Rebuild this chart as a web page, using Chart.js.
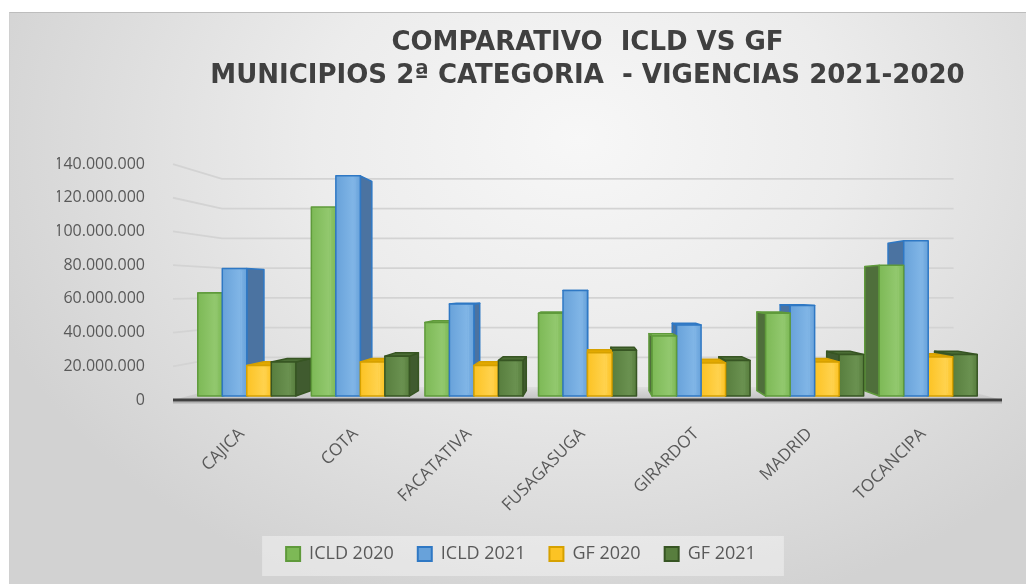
<!DOCTYPE html>
<html lang="es">
<head>
<meta charset="utf-8">
<title>Comparativo ICLD vs GF</title>
<script src="https://cdn.jsdelivr.net/npm/chart.js@4.4.1/dist/chart.umd.min.js"></script>
<style>
  html, body { margin: 0; padding: 0; background: #fff; }
  body { width: 1026px; height: 584px; position: relative; overflow: hidden; }
  #panel {
    position: absolute; left: 9px; top: 12px; width: 1017px; height: 572px;
    border-top: 1px solid #bdbdbd; border-left: 1px solid #d0d0d0;
    background: radial-gradient(ellipse 62% 85% at 56% 22%, #f7f7f7 0%, #ececec 42%, #d2d2d2 100%);
  }
  canvas { display: block; }
</style>
</head>
<body>
<div id="panel"><canvas id="grafico" width="1016" height="571"></canvas></div>
<script>
// Municipios y valores por vigencia (pesos)
const municipios = ['CAJICA', 'COTA', 'FACATATIVA', 'FUSAGASUGA', 'GIRARDOT', 'MADRID', 'TOCANCIPA'];
const icld2020 = [63500000, 114500000, 46000000, 51500000, 38000000, 51500000, 80000000];
const icld2021 = [78000000, 133000000, 57000000, 65000000, 44500000, 56000000, 94500000];
const gf2020   = [20500000, 22500000, 20500000, 28000000, 22000000, 22500000, 25500000];
const gf2021   = [22500000, 26000000, 23500000, 29500000, 23500000, 27000000, 27000000];
const valoresEjeY = [0, 20000000, 40000000, 60000000, 80000000, 100000000, 120000000, 140000000];

function miles(v) {
    return String(v).replace(/\B(?=(\d{3})+(?!\d))/g, '.');
}

// --- Perspectiva: punto de fuga y profundidad de barras y paredes ---
const VX = 580, VY = 277;
const PROF_BARRA = 0.05;
const PROF_PARED = 0.1175;

function alFondo(px, py, k) {
    return [px + (VX - px) * k, py + (VY - py) * k];
}

function poligono(ctx, puntos, relleno, borde) {
    ctx.beginPath();
    ctx.moveTo(puntos[0][0], puntos[0][1]);
    for (let i = 1; i < puntos.length; i++) ctx.lineTo(puntos[i][0], puntos[i][1]);
    ctx.closePath();
    ctx.fillStyle = relleno;
    ctx.fill();
    if (borde) {
        ctx.strokeStyle = borde;
        ctx.lineWidth = 1.5;
        ctx.stroke();
    }
}

const efecto3D = {
    id: 'efecto3D',

    // Caja clara detrás de la leyenda
    beforeDraw(chart) {
        const cajas = chart.legend.legendHitBoxes;
        if (!cajas || !cajas.length) return;
        const ult = cajas[cajas.length - 1];
        const izq = cajas[0].left - 24;
        const der = ult.left + ult.width + 28;
        const cy = cajas[0].top + cajas[0].height / 2;
        const ctx = chart.ctx;
        ctx.save();
        ctx.fillStyle = 'rgba(255,255,255,0.38)';
        ctx.fillRect(izq, cy - 18, der - izq, 40);
        ctx.restore();
    },

    // Paredes, líneas de división, piso y eje
    beforeDatasetsDraw(chart) {
        const ctx = chart.ctx;
        const y = chart.scales.y;
        const area = chart.chartArea;
        const xi = area.left - 17, xd = area.right + 17;
        const base = y.getPixelForValue(0);
        ctx.save();

        valoresEjeY.forEach(v => {
            if (v === 0) return;
            const fy = y.getPixelForValue(v);
            const [bxi, by] = alFondo(xi, fy, PROF_PARED);
            const [bxd] = alFondo(xd, fy, PROF_PARED);
            ctx.strokeStyle = '#d3d3d3';
            ctx.lineWidth = 1.8;
            ctx.beginPath();
            ctx.moveTo(xi, fy);
            ctx.lineTo(bxi, by);
            ctx.lineTo(bxd, by);
            ctx.stroke();
        });

        const [pbi, pby] = alFondo(xi, base, PROF_PARED);
        const [pbd] = alFondo(xd, base, PROF_PARED);
        const grad = ctx.createLinearGradient(0, pby, 0, base);
        grad.addColorStop(0, '#dedede');
        grad.addColorStop(1, '#c2c2c2');
        poligono(ctx, [[xi, base], [pbi, pby], [pbd, pby], [xd, base]], grad);

        ctx.strokeStyle = 'rgba(0,0,0,0.18)';
        ctx.lineWidth = 2;
        ctx.beginPath();
        ctx.moveTo(xi, base + 2.5);
        ctx.lineTo(xd, base + 2.5);
        ctx.stroke();
        ctx.strokeStyle = '#404040';
        ctx.lineWidth = 3;
        ctx.beginPath();
        ctx.moveTo(xi, base);
        ctx.lineTo(xd, base);
        ctx.stroke();
        ctx.restore();
    },

    // Las barras se dibujan aquí con caras laterales y superiores
    beforeDatasetDraw() {
        return false;
    },

    afterDatasetsDraw(chart) {
        const ctx = chart.ctx;
        const barras = [];
        chart.data.datasets.forEach((ds, i) => {
            const meta = chart.getDatasetMeta(i);
            if (!chart.isDatasetVisible(i)) return;
            meta.data.forEach(el => {
                const p = el.getProps(['x', 'y', 'base', 'width'], true);
                barras.push({
                    cx: p.x, x0: p.x - p.width / 2, x1: p.x + p.width / 2,
                    yt: p.y, yb: p.base - 4, ds
                });
            });
        });
        // de lo más lejano al punto de fuga hacia lo más cercano
        barras.sort((a, b) => Math.abs(b.cx - VX) - Math.abs(a.cx - VX));

        ctx.save();
        ctx.lineJoin = 'round';
        barras.forEach(b => {
            const ds = b.ds;
            const [bx0, byt] = alFondo(b.x0, b.yt, PROF_BARRA);
            const [bx1, byb] = alFondo(b.x1, b.yb, PROF_BARRA);

            if (b.cx < VX) {
                poligono(ctx, [[b.x1, b.yt], [bx1, byt], [bx1, byb], [b.x1, b.yb]], ds.colorLado, ds.borderColor);
            } else {
                poligono(ctx, [[b.x0, b.yt], [bx0, byt], [bx0, byb], [b.x0, b.yb]], ds.colorLado, ds.borderColor);
            }
            if (b.yt > VY) {
                poligono(ctx, [[b.x0, b.yt], [b.x1, b.yt], [bx1, byt], [bx0, byt]], ds.colorTapa, ds.borderColor);
            }

            const w = b.x1 - b.x0;
            const g = ctx.createLinearGradient(b.x0, 0, b.x1, 0);
            g.addColorStop(0, ds.backgroundColor);
            g.addColorStop(0.7, ds.colorBrillo);
            g.addColorStop(1, ds.backgroundColor);
            poligono(ctx, [[b.x0, b.yt], [b.x1, b.yt], [b.x1, b.yb], [b.x0, b.yb]], g, ds.borderColor);
            ctx.strokeStyle = ds.colorBrillo;
            ctx.lineWidth = 1;
            ctx.beginPath();
            ctx.moveTo(b.x0 + w * 0.78, b.yt + 3);
            ctx.lineTo(b.x0 + w * 0.78, b.yb - 3);
            ctx.stroke();
        });
        ctx.restore();
    }
};

const ctx = document.getElementById('grafico').getContext('2d');

new Chart(ctx, {
    type: 'bar',
    data: {
        labels: municipios,
        datasets: [
            { label: 'ICLD 2020', data: icld2020, backgroundColor: '#7db956', borderColor: '#5f9a3b',
              colorLado: '#4f6f3b', colorTapa: '#94c76f', colorBrillo: '#92c86e', borderWidth: 2 },
            { label: 'ICLD 2021', data: icld2021, backgroundColor: '#68a2da', borderColor: '#2f78c4',
              colorLado: '#4b73a1', colorTapa: '#86b6e6', colorBrillo: '#80b5e6', borderWidth: 2 },
            { label: 'GF 2020', data: gf2020, backgroundColor: '#fcc324', borderColor: '#d6a100',
              colorLado: '#c99500', colorTapa: '#e2a900', colorBrillo: '#ffd24d', borderWidth: 2 },
            { label: 'GF 2021', data: gf2021, backgroundColor: '#587e3e', borderColor: '#375523',
              colorLado: '#405b2f', colorTapa: '#4b6d35', colorBrillo: '#6a9150', borderWidth: 2 }
        ]
    },
    options: {
        responsive: false,
        animation: false,
        devicePixelRatio: 1,
        layout: { padding: { left: 47, right: 41, top: 0, bottom: 11 } },
        datasets: { bar: { barPercentage: 1, categoryPercentage: 0.863 } },
        plugins: {
            title: {
                display: true,
                fullSize: false,
                text: ['COMPARATIVO  ICLD VS GF', 'MUNICIPIOS 2ª CATEGORIA  - VIGENCIAS 2021-2020'],
                color: '#404040',
                font: { family: '"DejaVu Sans", sans-serif', size: 26, weight: 'bold', lineHeight: 1.27 },
                padding: { top: 14, bottom: 71 }
            },
            legend: {
                position: 'bottom',
                labels: {
                    boxWidth: 14,
                    boxHeight: 14,
                    padding: 24,
                    color: '#595959',
                    font: { family: '"Open Sans", sans-serif', size: 18 }
                }
            },
            tooltip: { enabled: false }
        },
        scales: {
            x: {
                grid: { display: false },
                border: { display: false },
                ticks: {
                    color: '#595959',
                    font: { family: '"Open Sans", sans-serif', size: 17 },
                    minRotation: 45,
                    maxRotation: 45,
                    labelOffset: -5,
                    padding: 16
                },
                afterFit: s => { s.height = 121; }
            },
            y: {
                min: 0,
                max: 140000000,
                grid: { display: false },
                border: { display: false },
                afterBuildTicks: s => { s.ticks = valoresEjeY.map(v => ({ value: v })); },
                afterFit: s => { s.width = 133; },
                ticks: {
                    color: '#595959',
                    font: { family: '"Open Sans", sans-serif', size: 16 },
                    padding: 37,
                    callback: v => miles(v)
                }
            }
        }
    },
    plugins: [efecto3D]
});
</script>
</body>
</html>
